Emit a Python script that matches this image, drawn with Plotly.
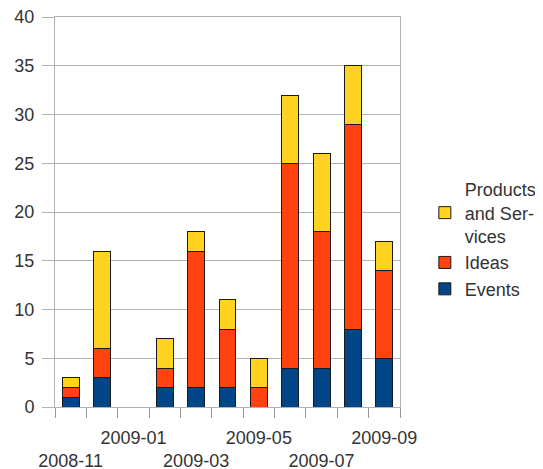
import plotly.graph_objects as go

months = ["2008-11", "2008-12", "2009-01", "2009-02", "2009-03", "2009-04",
          "2009-05", "2009-06", "2009-07", "2009-08", "2009-09"]
events = [1, 3, 0, 2, 2, 2, 0, 4, 4, 8, 5]
ideas = [1, 3, 0, 2, 14, 6, 2, 21, 14, 21, 9]
products = [1, 10, 0, 3, 2, 3, 3, 7, 8, 6, 3]
tick_labels = ["<br>2008-11", "", "2009-01", "", "<br>2009-03", "",
               "2009-05", "", "<br>2009-07", "", "2009-09"]

FONT = "Liberation Sans"
line = dict(color="#1a1a1a", width=1)

fig = go.Figure()
fig.add_trace(go.Bar(x=months, y=events, name="Events",
                     marker=dict(color="#004586", line=line)))
fig.add_trace(go.Bar(x=months, y=ideas, name="Ideas",
                     marker=dict(color="#ff420e", line=line)))
fig.add_trace(go.Bar(x=months, y=products, name="Products<br>and Ser-<br>vices",
                     marker=dict(color="#ffd320", line=line)))

# page has an 8px body margin, so the figure is sized 8px smaller
fig.update_layout(
    width=535, height=461,
    barmode="stack", bargap=0.46,
    paper_bgcolor="white", plot_bgcolor="white",
    margin=dict(l=47, r=143, t=9, b=62, autoexpand=False),
    font=dict(family=FONT, size=18, color="#333333"),
    legend=dict(x=1.072, xanchor="left", y=0.605, yanchor="top",
                traceorder="reversed", font=dict(size=18, color="#333333"),
                bgcolor="rgba(0,0,0,0)", itemwidth=30, tracegroupgap=0),
    showlegend=True,
)
fig.update_xaxes(type="category", tickmode="array", tickvals=months, ticktext=tick_labels,
                 tickson="boundaries", ticks="outside", ticklen=10, tickcolor="#999999",
                 showline=True, linecolor="#b3b3b3", linewidth=1, mirror=True,
                 showgrid=False, range=[-0.5, 10.5], tickangle=0, automargin=False,
                 ticklabelstandoff=14, ticklabeloverflow="allow",
                 tickfont=dict(size=18, color="#333333"))
fig.update_yaxes(range=[0, 40], dtick=5, ticks="outside", ticklen=12, tickcolor="#b3b3b3",
                 showgrid=True, gridcolor="#b3b3b3", gridwidth=1, automargin=False,
                 showline=True, linecolor="#b3b3b3", linewidth=1, mirror=True,
                 ticklabelstandoff=4, ticklabeloverflow="allow",
                 zeroline=False, tickfont=dict(size=18, color="#333333"))

fig.write_html("out.html")
